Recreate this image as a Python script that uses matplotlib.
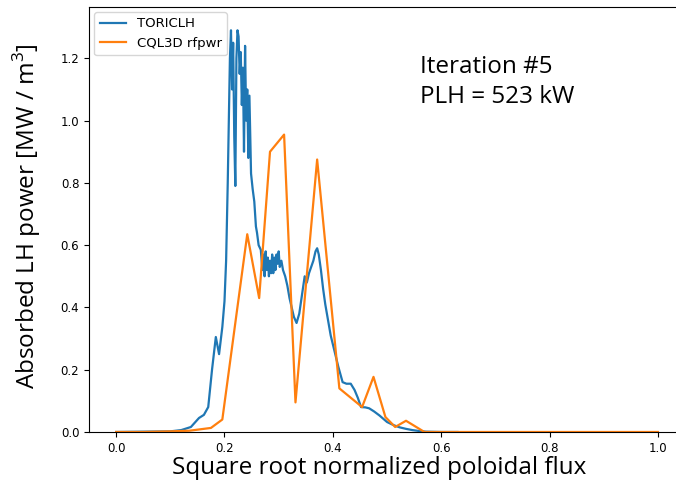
import numpy as np
import matplotlib.pyplot as plt

plt.rcParams['mathtext.fontset'] = 'custom'
plt.rcParams['mathtext.rm'] = 'Open Sans'

# TORICLH
rho_toric = [0.0, 0.05, 0.10, 0.12, 0.138, 0.153, 0.162, 0.170, 0.177, 0.184,
             0.190, 0.196, 0.200, 0.203, 0.206, 0.208, 0.210, 0.212, 0.214, 0.216,
             0.218, 0.220, 0.222, 0.224, 0.226, 0.228, 0.230, 0.232, 0.234, 0.236,
             0.238, 0.240, 0.242, 0.244, 0.246, 0.249, 0.252, 0.255, 0.258, 0.260,
             0.263, 0.267, 0.270, 0.272, 0.274, 0.276, 0.278, 0.280, 0.282, 0.284,
             0.286, 0.288, 0.290, 0.292, 0.294, 0.296, 0.298, 0.300, 0.302, 0.305,
             0.308, 0.312, 0.316, 0.320, 0.324, 0.328, 0.333, 0.338, 0.343, 0.348,
             0.352, 0.356, 0.360, 0.364, 0.368, 0.371, 0.374, 0.378, 0.382, 0.386,
             0.390, 0.396, 0.403, 0.410, 0.418, 0.425, 0.433, 0.440, 0.446, 0.452,
             0.460, 0.467, 0.476, 0.486, 0.500, 0.512, 0.523, 0.535, 0.547, 0.560,
             0.572, 0.600, 0.630]
p_toric = [0.0, 0.001, 0.002, 0.006, 0.016, 0.045, 0.055, 0.08, 0.20, 0.305,
           0.25, 0.337, 0.42, 0.55, 0.80, 1.00, 1.20, 1.29, 1.10, 1.25,
           0.95, 0.79, 1.20, 1.29, 1.27, 1.15, 1.22, 1.05, 1.17, 0.90,
           1.24, 1.00, 1.10, 0.88, 1.08, 0.83, 0.78, 0.74, 0.66, 0.64,
           0.60, 0.585, 0.52, 0.57, 0.50, 0.58, 0.52, 0.56, 0.50, 0.55,
           0.51, 0.57, 0.51, 0.56, 0.52, 0.57, 0.54, 0.58, 0.53, 0.55,
           0.52, 0.50, 0.47, 0.43, 0.40, 0.37, 0.35, 0.38, 0.44, 0.50,
           0.48, 0.51, 0.53, 0.55, 0.58, 0.59, 0.57, 0.52, 0.46, 0.41,
           0.37, 0.31, 0.26, 0.21, 0.16, 0.155, 0.155, 0.135, 0.11, 0.08,
           0.079, 0.076, 0.066, 0.053, 0.032, 0.022, 0.015, 0.010, 0.006, 0.003,
           0.001, 0.0, 0.0]

# CQL3D rfpwr
rho_cql = [0.0, 0.05, 0.10, 0.135, 0.175, 0.196, 0.242, 0.264, 0.284, 0.310,
           0.331, 0.371, 0.412, 0.454, 0.475, 0.497, 0.515, 0.535, 0.569, 1.0]
p_cql = [0.0, 0.0, 0.002, 0.004, 0.013, 0.04, 0.635, 0.43, 0.90, 0.955,
         0.095, 0.875, 0.14, 0.08, 0.177, 0.048, 0.016, 0.036, 0.0, 0.0]

fig = plt.figure(figsize=(6.76, 4.88), dpi=100)
ax = fig.add_axes([0.1317, 0.1148, 0.8817, 0.871])
ax.plot(rho_toric, p_toric, color='#1f77b4', lw=1.6, label='TORICLH')
ax.plot(rho_cql, p_cql, color='#ff7f0e', lw=1.6, label='CQL3D rfpwr')
ax.set_xlim(-0.05, 1.05)
ax.set_ylim(0, 1.365)
ax.set_xticks(np.arange(0, 1.01, 0.2))
ax.set_yticks(np.arange(0, 1.21, 0.2))
ax.tick_params(labelsize=8.5)
ax.spines['right'].set_visible(False)
ax.legend(loc='upper left', fontsize=9.5, borderaxespad=0.4)

fig.text(0.561, 0.041, 'Square root normalized poloidal flux',
         family='Open Sans', fontsize=17.5, ha='center', va='center')
fig.text(0.040, 0.557, 'Absorbed LH power [MW / m$^{3}$]',
         family='Open Sans', fontsize=17.5, ha='center', va='center', rotation=90)
fig.text(420 / 676, 1 - 73 / 488, 'Iteration #5',
         family='Open Sans', fontsize=17.5, ha='left', va='baseline')
fig.text(420 / 676, 1 - 103 / 488, 'PLH = 523 kW',
         family='Open Sans', fontsize=17.5, ha='left', va='baseline')

fig.savefig('out.png', dpi=100)
